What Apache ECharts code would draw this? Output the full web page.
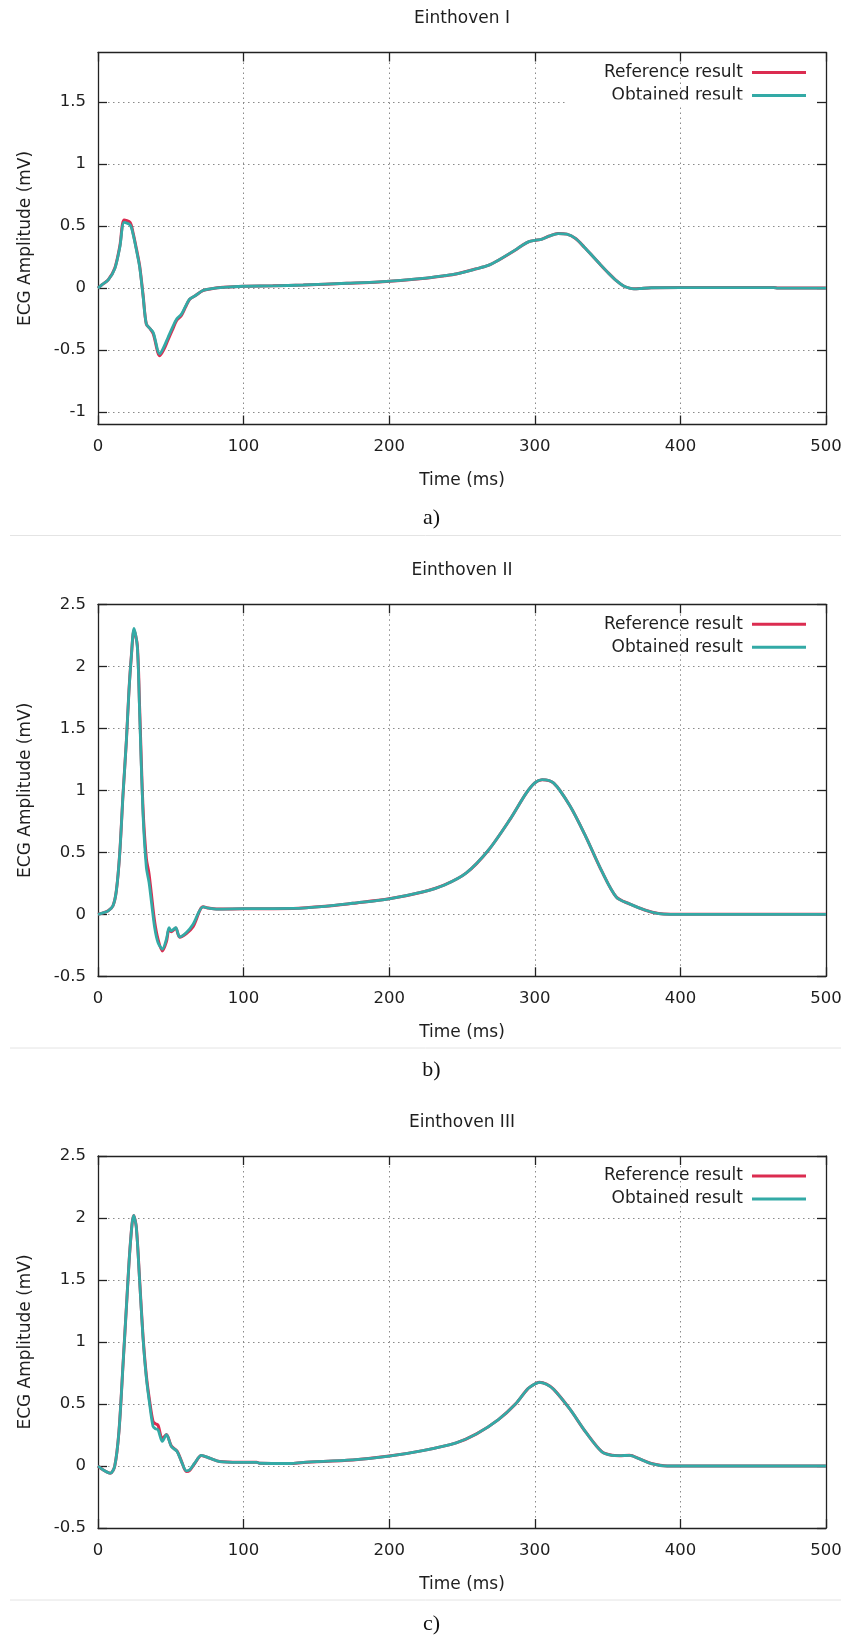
<!DOCTYPE html>
<html><head><meta charset="utf-8">
<script src="https://cdn.jsdelivr.net/npm/echarts@6/dist/echarts.min.js"></script>
<style>html,body{margin:0;padding:0;background:#fff}#c{width:851px;height:1639px}</style>
</head><body><div id="c"></div>
<script>
// ---------- DATA ----------
const panelTitles = ['Einthoven I', 'Einthoven II', 'Einthoven III'];
const captions = ['a)', 'b)', 'c)'];
const seriesNames = ['Reference result', 'Obtained result'];
const xTickLabels = [0, 100, 200, 300, 400, 500];
const yTicksA = [-1, -0.5, 0, 0.5, 1, 1.5];
const yTicksBC = [-0.5, 0, 0.5, 1, 1.5, 2, 2.5];

// Einthoven I
const timeA = [0, 3, 7, 11.5, 15, 18, 22, 24, 26.5, 28.6, 31, 33.2, 36, 38, 42.4, 45, 48, 51, 54, 57.3, 60, 63, 67, 72, 78, 86, 100, 120, 141, 171, 193, 223, 238, 246, 260, 268, 275, 287, 291, 296, 300, 305, 310, 316, 322, 328, 334, 339, 345, 350, 356, 361, 365, 368, 372, 380, 420, 464, 467, 500];
const refA = [0, 0.03, 0.066, 0.16, 0.34, 0.55, 0.53, 0.45, 0.31, 0.18, -0.06, -0.29, -0.33, -0.37, -0.545, -0.5, -0.42, -0.34, -0.26, -0.22, -0.155, -0.09, -0.06, -0.02, -0.005, 0.006, 0.015, 0.018, 0.025, 0.039, 0.05, 0.078, 0.1, 0.114, 0.156, 0.183, 0.225, 0.31, 0.342, 0.375, 0.385, 0.395, 0.42, 0.44, 0.435, 0.40, 0.33, 0.267, 0.19, 0.128, 0.06, 0.017, 0, -0.006, -0.004, 0.003, 0.004, 0.004, 0, 0];
const objA = [0, 0.03, 0.066, 0.155, 0.33, 0.53, 0.51, 0.44, 0.3, 0.17, -0.07, -0.29, -0.33, -0.36, -0.53, -0.48, -0.40, -0.32, -0.25, -0.21, -0.15, -0.088, -0.06, -0.02, -0.005, 0.006, 0.015, 0.018, 0.025, 0.039, 0.05, 0.078, 0.1, 0.114, 0.156, 0.183, 0.225, 0.31, 0.342, 0.375, 0.385, 0.395, 0.42, 0.44, 0.435, 0.40, 0.33, 0.267, 0.19, 0.128, 0.06, 0.017, 0, -0.006, -0.004, 0.003, 0.004, 0.004, 0, 0];

// Einthoven II
const timeB = [0, 3, 7, 10.3, 12.6, 14.9, 17.2, 19.5, 21.3, 22.9, 24.7, 27, 28.6, 30.9, 33.2, 35, 36.6, 38.9, 41.2, 44.2, 47, 48.8, 50.4, 52, 53.4, 56.1, 60.7, 65.3, 72.2, 76, 81.3, 100, 134, 156, 175, 200, 223, 238, 253, 268, 283, 294, 300, 305, 313, 324, 335, 346, 356, 365, 376, 385, 393, 500];
const refB = [0, 0.01, 0.028, 0.069, 0.19, 0.487, 0.97, 1.40, 1.81, 2.08, 2.29, 2.17, 1.66, 0.86, 0.45, 0.33, 0.17, -0.06, -0.2, -0.295, -0.22, -0.12, -0.14, -0.125, -0.11, -0.185, -0.155, -0.1, 0.06, 0.05, 0.042, 0.045, 0.047, 0.064, 0.089, 0.125, 0.18, 0.237, 0.334, 0.515, 0.766, 0.975, 1.06, 1.086, 1.058, 0.877, 0.627, 0.348, 0.139, 0.084, 0.033, 0.006, 0, 0];
const objB = [0, 0.01, 0.028, 0.069, 0.19, 0.487, 0.97, 1.40, 1.81, 2.08, 2.305, 2.157, 1.62, 0.81, 0.378, 0.26, 0.109, -0.107, -0.228, -0.28, -0.2, -0.107, -0.134, -0.12, -0.107, -0.182, -0.147, -0.08, 0.06, 0.05, 0.042, 0.045, 0.047, 0.064, 0.089, 0.125, 0.18, 0.237, 0.334, 0.515, 0.766, 0.975, 1.06, 1.086, 1.058, 0.877, 0.627, 0.348, 0.139, 0.084, 0.033, 0.006, 0, 0];

// Einthoven III
const timeC = [0, 3.4, 8.5, 11.5, 14.4, 17.2, 19.9, 22.2, 24.5, 26.3, 28.6, 30.9, 33.2, 35.5, 37.8, 39.5, 41.2, 44.2, 47, 50.4, 54.3, 57.3, 60.7, 63, 66.4, 71, 76.7, 83.6, 97, 109, 111, 132, 141, 175, 200, 223, 246, 260, 275, 287, 295, 300, 303, 308, 313, 324, 335, 346, 353, 358, 365, 372, 380, 391, 500];
const refC = [0, -0.03, -0.058, 0, 0.28, 0.82, 1.36, 1.79, 2.02, 1.93, 1.5, 1.05, 0.73, 0.52, 0.36, 0.34, 0.33, 0.22, 0.255, 0.16, 0.12, 0.04, -0.045, -0.035, 0.02, 0.085, 0.063, 0.036, 0.03, 0.03, 0.022, 0.02, 0.029, 0.049, 0.08, 0.124, 0.187, 0.259, 0.374, 0.503, 0.62, 0.661, 0.675, 0.66, 0.618, 0.46, 0.273, 0.115, 0.086, 0.083, 0.086, 0.057, 0.02, 0, 0];
const objC = [0, -0.03, -0.058, 0, 0.28, 0.82, 1.36, 1.79, 2.02, 1.925, 1.49, 1.035, 0.71, 0.495, 0.32, 0.3, 0.293, 0.198, 0.252, 0.158, 0.117, 0.036, -0.039, -0.03, 0.023, 0.085, 0.063, 0.036, 0.03, 0.03, 0.022, 0.02, 0.029, 0.049, 0.08, 0.124, 0.187, 0.259, 0.374, 0.503, 0.62, 0.661, 0.675, 0.66, 0.618, 0.46, 0.273, 0.115, 0.086, 0.083, 0.086, 0.057, 0.02, 0, 0];

// ---------- LAYOUT / STYLE ----------
const FONT = 'DejaVu Sans';
const TXT = '#1e1e1e';
const RED = '#db2c50';
const TEAL = '#33aaa6';
const gridLeft = 98, gridWidth = 728, gridHeight = 372;
const gridTops = [52.5, 604.3, 1156];
const titleYs = [19, 571, 1123];
const captionYs = [518, 1070, 1624];
const sepYs = [535.5, 1048, 1600];

const panels = [
  { time: timeA, ref: refA, obj: objA, ymin: -1.1, ymax: 1.9, yticks: yTicksA },
  { time: timeB, ref: refB, obj: objB, ymin: -0.5, ymax: 2.5, yticks: yTicksBC },
  { time: timeC, ref: refC, obj: objC, ymin: -0.5, ymax: 2.5, yticks: yTicksBC }
];

const axisLineStyle = { color: '#222', width: 1.3 };
const gridLineStyle = { color: '#8a8a8a', width: 1, type: [1.5, 3.5] };

const option = {
  animation: false,
  backgroundColor: '#fff',
  textStyle: { fontFamily: FONT },
  title: [], legend: [], grid: [], xAxis: [], yAxis: [], series: [],
  graphic: []
};

panels.forEach((p, i) => {
  option.grid.push({ left: gridLeft, top: gridTops[i], width: gridWidth, height: gridHeight, containLabel: false });
  option.title.push({
    text: panelTitles[i], left: 462, top: titleYs[i], textAlign: 'center', textVerticalAlign: 'middle', padding: 0,
    textStyle: { fontFamily: FONT, fontSize: 17, fontWeight: 'normal', color: TXT }
  });
  option.title.push({
    text: captions[i], left: 431.5, top: captionYs[i], textAlign: 'center', textVerticalAlign: 'middle', padding: 0,
    textStyle: { fontFamily: 'Liberation Serif', fontSize: 22, fontWeight: 'normal', color: '#111' }
  });
  option.xAxis.push({
    gridIndex: i, type: 'value', position: 'bottom', min: 0, max: 500, interval: 100,
    name: 'Time (ms)', nameLocation: 'middle', nameGap: 48,
    nameTextStyle: { fontFamily: FONT, fontSize: 17, color: TXT },
    axisLine: { show: true, onZero: false, lineStyle: axisLineStyle },
    axisTick: { show: true, inside: true, length: 9, lineStyle: axisLineStyle },
    axisLabel: { margin: 14, fontFamily: FONT, fontSize: 16.5, color: TXT, customValues: xTickLabels },
    splitLine: { show: true, lineStyle: gridLineStyle }
  });
  option.xAxis.push({
    gridIndex: i, type: 'value', position: 'top', min: 0, max: 500, interval: 100,
    axisLine: { show: true, onZero: false, lineStyle: axisLineStyle },
    axisTick: { show: true, inside: true, length: 9, lineStyle: axisLineStyle },
    axisLabel: { show: false }, splitLine: { show: false }
  });
  option.yAxis.push({
    gridIndex: i, type: 'value', position: 'left', min: p.ymin, max: p.ymax,
    name: 'ECG Amplitude (mV)', nameLocation: 'middle', nameGap: 64,
    nameTextStyle: { fontFamily: FONT, fontSize: 17, color: TXT },
    axisLine: { show: true, onZero: false, lineStyle: axisLineStyle },
    axisTick: { show: true, inside: true, length: 9, lineStyle: axisLineStyle, customValues: p.yticks },
    axisLabel: { margin: 12, fontFamily: FONT, fontSize: 16.5, color: TXT, customValues: p.yticks },
    splitLine: { show: true, lineStyle: gridLineStyle }
  });
  option.yAxis.push({
    gridIndex: i, type: 'value', position: 'right', min: p.ymin, max: p.ymax,
    axisLine: { show: true, onZero: false, lineStyle: axisLineStyle },
    axisTick: { show: true, inside: true, length: 9, lineStyle: axisLineStyle, customValues: p.yticks },
    axisLabel: { show: false, customValues: p.yticks }, splitLine: { show: false }
  });
  const xi = i * 2, yi = i * 2;
  option.series.push({
    name: seriesNames[0], type: 'line', xAxisIndex: xi, yAxisIndex: yi,
    data: p.time.map((t, k) => [t, p.ref[k]]),
    symbol: 'none', showSymbol: false, z: 2, smooth: 0.3,
    lineStyle: { color: RED, width: 3 }, itemStyle: { color: RED }
  });
  option.series.push({
    name: seriesNames[1], type: 'line', xAxisIndex: xi, yAxisIndex: yi,
    data: p.time.map((t, k) => [t, p.obj[k]]),
    symbol: 'none', showSymbol: false, z: 3, smooth: 0.3,
    lineStyle: { color: TEAL, width: 2.8 }, itemStyle: { color: TEAL }
  });
  option.legend.push({
    data: seriesNames.map((n, k) => ({ name: n, icon: 'rect', itemStyle: { color: k === 0 ? RED : TEAL } })),
    orient: 'vertical', right: 45, top: gridTops[i] + 11.5,
    align: 'right', itemWidth: 54, itemHeight: 3, itemGap: 6, padding: 0,
    selectedMode: false,
    textStyle: { fontFamily: FONT, fontSize: 17, color: TXT, lineHeight: 17, padding: [0, 4, 0, 0] }
  });
  option.graphic.push({
    type: 'line', silent: true, z: 0,
    shape: { x1: 10, y1: sepYs[i], x2: 841, y2: sepYs[i] },
    style: { stroke: '#e4e4e4', lineWidth: 1 }
  });
});

// key box hides the 1.5 grid line in panel a
option.graphic.push({
  type: 'rect', silent: true, z: 5,
  shape: { x: 568, y: 99.5, width: 248, height: 4.5 },
  style: { fill: '#fff' }
});

const chart = echarts.init(document.getElementById('c'), null, { renderer: 'canvas', width: 851, height: 1639 });
chart.setOption(option);
</script></body></html>
